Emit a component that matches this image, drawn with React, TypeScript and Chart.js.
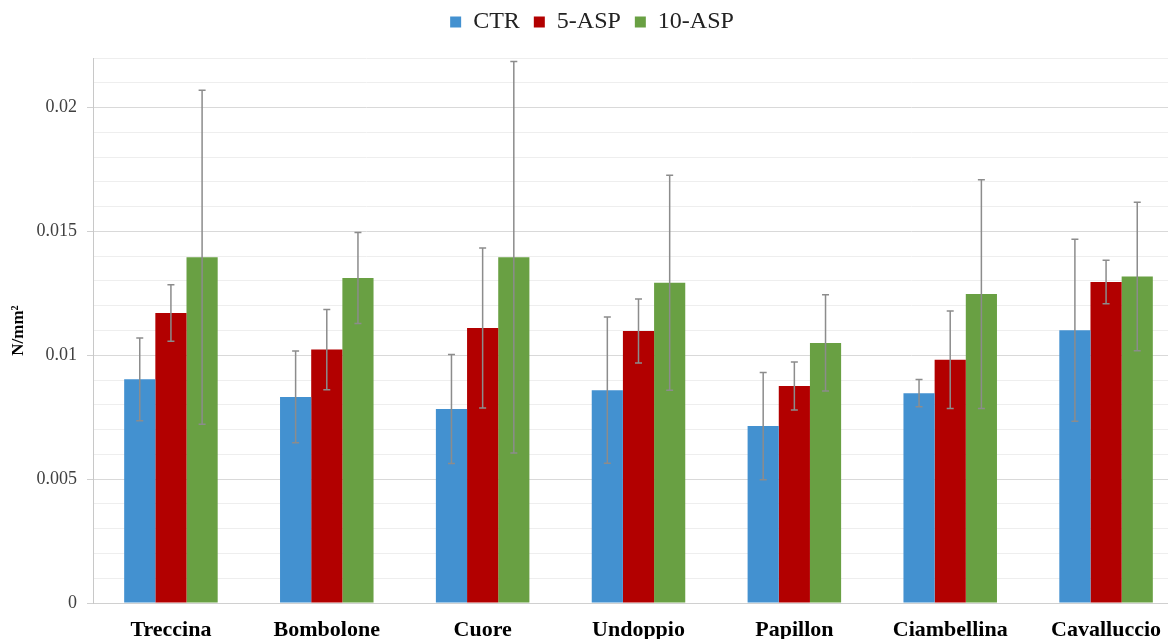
import React, { useEffect, useRef } from "react";
import { Chart, registerables } from "chart.js";

Chart.register(...registerables);

const categories = ["Treccina", "Bombolone", "Cuore", "Undoppio", "Papillon", "Ciambellina", "Cavalluccio"];
const seriesNames = ["CTR", "5-ASP", "10-ASP"];
const ctrValues = [0.00903, 0.00832, 0.00783, 0.00859, 0.00714, 0.00847, 0.01101];
const ctrErrors = [0.00167, 0.00185, 0.0022, 0.00295, 0.00216, 0.00055, 0.00367];
const asp5Values = [0.01171, 0.01023, 0.0111, 0.01098, 0.00876, 0.00982, 0.01296];
const asp5Errors = [0.00114, 0.00162, 0.00323, 0.00129, 0.00097, 0.00197, 0.00088];
const asp10Values = [0.01396, 0.01312, 0.01396, 0.01293, 0.0105, 0.01247, 0.01318];
const asp10Errors = [0.00674, 0.00184, 0.0079, 0.00434, 0.00194, 0.00462, 0.003];
const yTitle = "N/mm²";

const FONT = "'Liberation Serif', 'Times New Roman', serif";
const LEGEND_EXTRA = 14;

const errorBarPlugin = {
  id: "errorBars",
  afterDatasetsDraw(chart: any) {
    const ctx = chart.ctx;
    const yScale = chart.scales.y;
    ctx.save();
    ctx.strokeStyle = "#8c8c8c";
    ctx.lineWidth = 1.5;
    chart.data.datasets.forEach((ds: any, i: number) => {
      const meta = chart.getDatasetMeta(i);
      if (meta.hidden) return;
      meta.data.forEach((bar: any, j: number) => {
        const v = ds.data[j];
        const e = ds.errors[j];
        const x = bar.x;
        const yt = yScale.getPixelForValue(v + e);
        const yb = yScale.getPixelForValue(v - e);
        const cap = 3.5;
        ctx.beginPath();
        ctx.moveTo(x, yt);
        ctx.lineTo(x, yb);
        ctx.moveTo(x - cap, yt);
        ctx.lineTo(x + cap, yt);
        ctx.moveTo(x - cap, yb);
        ctx.lineTo(x + cap, yb);
        ctx.stroke();
      });
    });
    ctx.restore();
  },
};

const legendSpacePlugin = {
  id: "legendSpace",
  beforeUpdate(chart: any) {
    const legend = chart.legend;
    if (legend && !legend.__patched) {
      const orig = legend.fit.bind(legend);
      legend.fit = function () {
        orig();
        this.height += LEGEND_EXTRA;
      };
      legend.__patched = true;
    }
  },
};

export default function App() {
  const ref = useRef<HTMLCanvasElement | null>(null);
  useEffect(() => {
    if (!ref.current) return;
    const chart = new Chart(ref.current, {
      type: "bar",
      data: {
        labels: categories,
        datasets: [
          { label: seriesNames[0], data: ctrValues, errors: ctrErrors, backgroundColor: "#4391d0" } as any,
          { label: seriesNames[1], data: asp5Values, errors: asp5Errors, backgroundColor: "#b20000" } as any,
          { label: seriesNames[2], data: asp10Values, errors: asp10Errors, backgroundColor: "#69a043" } as any,
        ],
      },
      options: {
        animation: false,
        responsive: true,
        maintainAspectRatio: false,
        layout: { padding: { left: 0, right: 0, top: -4, bottom: 0 } },
        datasets: { bar: { categoryPercentage: 0.6, barPercentage: 1 } },
        plugins: {
          tooltip: { enabled: false },
          legend: {
            position: "top",
            labels: {
              boxWidth: 11,
              boxHeight: 11,
              padding: 14,
              color: "#222",
              font: { family: FONT, size: 24 },
            },
          },
        },
        scales: {
          x: {
            afterFit(scale: any) {
              scale.height = 36;
            },
            grid: { display: false, drawTicks: false },
            border: { color: "#d0d0d0", width: 1 },
            ticks: {
              color: "#000",
              padding: 14,
              font: { family: FONT, size: 22, weight: "bold" },
            },
          },
          y: {
            min: 0,
            max: 0.022,
            afterFit(scale: any) {
              scale.width = 93;
            },
            border: { color: "#c8c8c8", width: 1 },
            grid: {
              color: (c: any) => (c.index % 5 === 0 ? "#d9d9d9" : "#eeeeee"),
              tickColor: (c: any) => (c.index % 5 === 0 ? "#d0d0d0" : "rgba(0,0,0,0)"),
              tickLength: 6,
              lineWidth: 1,
            },
            ticks: {
              stepSize: 0.001,
              autoSkip: false,
              padding: 10,
              color: "#404040",
              font: { family: FONT, size: 18 },
              callback: (v: any, i: number) => (i % 5 === 0 ? String(Number(Number(v).toFixed(3))) : ""),
            },
            title: {
              display: true,
              text: yTitle,
              color: "#000",
              padding: { top: 8, bottom: 0 },
              font: { family: FONT, size: 17, weight: "bold" },
            },
          },
        },
      },
      plugins: [errorBarPlugin, legendSpacePlugin],
    });
    return () => chart.destroy();
  }, []);
  return (
    <div style={{ position: "fixed", left: 0, top: 0, width: 1184, height: 639, background: "#fff" }}>
      <canvas ref={ref} />
    </div>
  );
}
